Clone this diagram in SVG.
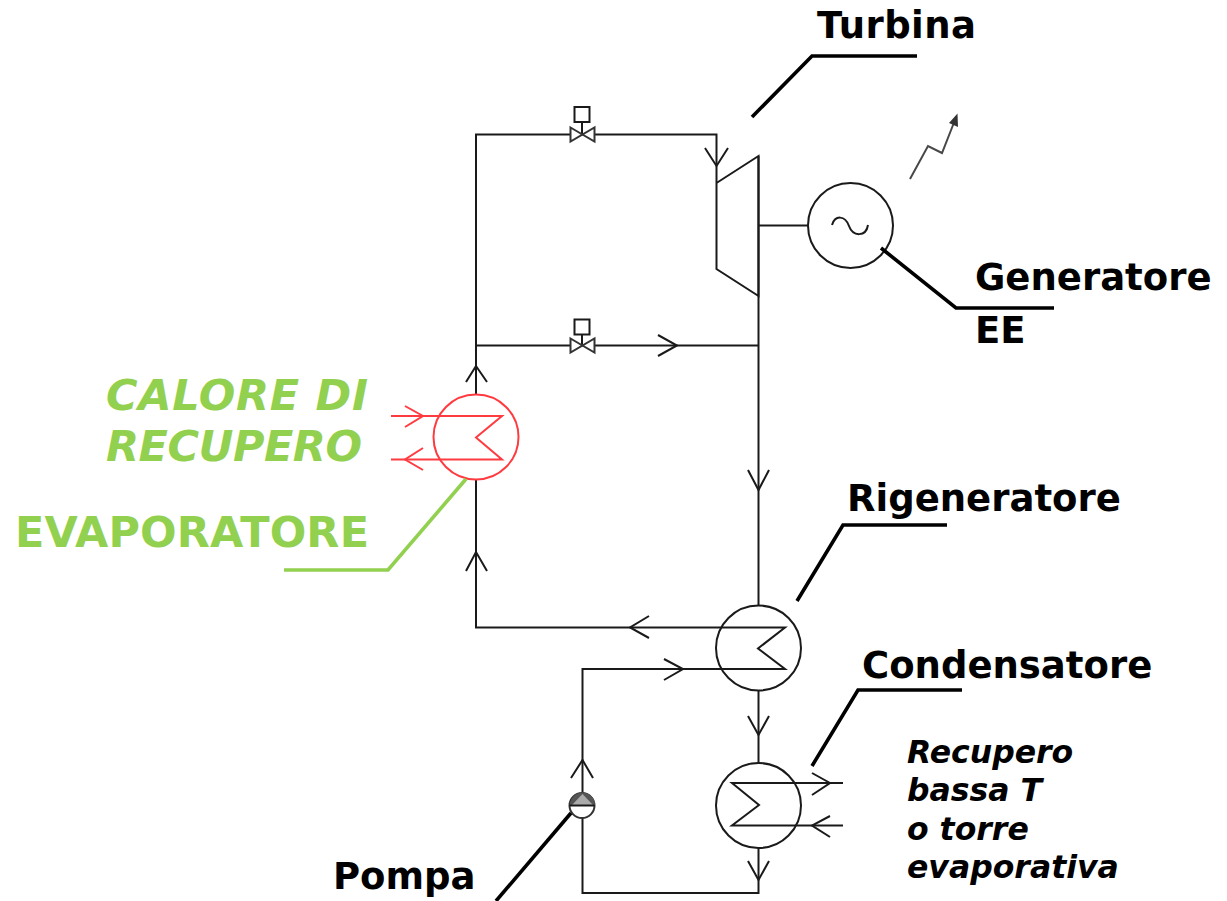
<svg xmlns="http://www.w3.org/2000/svg" width="1227" height="901" viewBox="0 0 1227 901">
<style>
.l{fill:none;stroke:#1a1a1a;stroke-width:2;stroke-linejoin:miter}
.w{fill:#fff;stroke:#333;stroke-width:2}
.r{fill:none;stroke:#ff3b40;stroke-width:2}
.k{fill:none;stroke:#000;stroke-width:3.6}
.g{fill:none;stroke:#92d050;stroke-width:3.6}
.t{font-family:"DejaVu Sans",Verdana,sans-serif;font-weight:bold;font-size:37px;fill:#000}
.c{fill:#92d050;font-size:43px}
.i{font-style:italic}
.s{font-size:31.5px}
</style>
<rect width="1227" height="901" fill="#fff"/>
<g id="connectors">
<path class="l" d="M476 395V134.500H716.500V183"/>
<path class="l" d="M476 345.500H758.500"/>
<path class="l" d="M758.500 156V606"/>
<path class="l" d="M758.500 225.500H808"/>
<path class="l" d="M476 479V627.500H785L758 648.500L785 669H582.500V793"/>
<path class="l" d="M758.500 691V763"/>
<path class="l" d="M582.500 818V893H758.500V848"/>
<path class="l" d="M843 783H732L759 805L732 825.500H843"/>
<path class="l" d="M705 148L716.500 166L728 148"/>
<path class="l" d="M658 335L677 345.500L658 356"/>
<path class="l" d="M466 382L476 366L487 382"/>
<path class="l" d="M748 470L758.500 490L769 470"/>
<path class="l" d="M466 571L476 552L487 571"/>
<path class="l" d="M649 616L630 627.500L649 638"/>
<path class="l" d="M664 659L683 669L664 680"/>
<path class="l" d="M571 778L582.500 760L593 778"/>
<path class="l" d="M748 716L758.500 735L769 716"/>
<path class="l" d="M748 861L758.500 880L769 861"/>
<path class="l" d="M812 773L830 783L812 795"/>
<path class="l" d="M830 816L812 825.500L830 837"/>
<path class="l" stroke-opacity="0.8" d="M910 179L928 146L942 153L955 120"/>
<path d="M957.500 113.500L958 127L949 123Z" fill="#333"/>
</g>
<g id="turbina"><path class="l" d="M716.500 183L758.500 156V296L716.500 269V183"/></g>
<g id="generatore"><circle class="l" cx="850.500" cy="225.500" r="42.500"/><path class="l" d="M832 225C835 215 845 215 849 226C853 237 866 237 868 225"/></g>
<g id="valvola1"><rect class="l" x="574.500" y="107" width="15" height="15"/><path class="l" d="M582 122V134.500"/><path class="w" d="M570.500 127.500L594.500 141.500V127.500L570.500 141.500Z"/></g>
<g id="valvola2"><rect class="l" x="574.500" y="319.500" width="15" height="15"/><path class="l" d="M582 334V345.500"/><path class="w" d="M570.500 338.500L594.500 352.500V338.500L570.500 352.500Z"/></g>
<g id="evaporatore"><circle class="r" cx="476" cy="437" r="42.500"/><path class="r" d="M391 416H502L476 437.500L502 459.500H391"/><path class="r" d="M405 406L423 416L405 427"/><path class="r" d="M423 448L405 459.500L423 470"/></g>
<g id="rigeneratore"><circle class="l" cx="758.500" cy="648" r="42.500"/></g>
<g id="condensatore"><circle class="l" cx="758.500" cy="805.500" r="42.500"/></g>
<g id="pompa"><circle class="w" cx="582" cy="805.500" r="12.500"/><path d="M570 805A12.500 12.500 0 0 1 595 805Z" fill="#555"/><path d="M572 805L582.500 794L593 805Z" fill="#aaa"/><path class="l" d="M569.500 805.500H594.500"/></g>
<g id="richiami">
<path class="k" d="M752 117L812 56H917"/>
<path class="k" d="M881 248L956 308H1054"/>
<path class="k" d="M797 601L843 525H947"/>
<path class="k" d="M812 766L858 690H962"/>
<path class="k" d="M496 901L571 813"/>
<path class="g" d="M284 570H388L466 479"/>
</g>
<g id="testi">
<text class="t" x="817" y="38" textLength="159" lengthAdjust="spacing">Turbina</text>
<text class="t" x="975" y="290">Generatore</text>
<text class="t" x="975" y="343">EE</text>
<text class="t" x="847" y="511">Rigeneratore</text>
<text class="t" x="862" y="678">Condensatore</text>
<text class="t" x="333" y="889">Pompa</text>
<text class="t c i" x="106" y="410" textLength="262">CALORE DI</text>
<text class="t c i" x="106" y="461" textLength="256">RECUPERO</text>
<text class="t c" x="15" y="547" textLength="354">EVAPORATORE</text>
<text class="t i s" x="907" y="763">Recupero</text>
<text class="t i s" x="907" y="801">bassa T</text>
<text class="t i s" x="907" y="840">o torre</text>
<text class="t i s" x="907" y="878">evaporativa</text>
</g>
</svg>
